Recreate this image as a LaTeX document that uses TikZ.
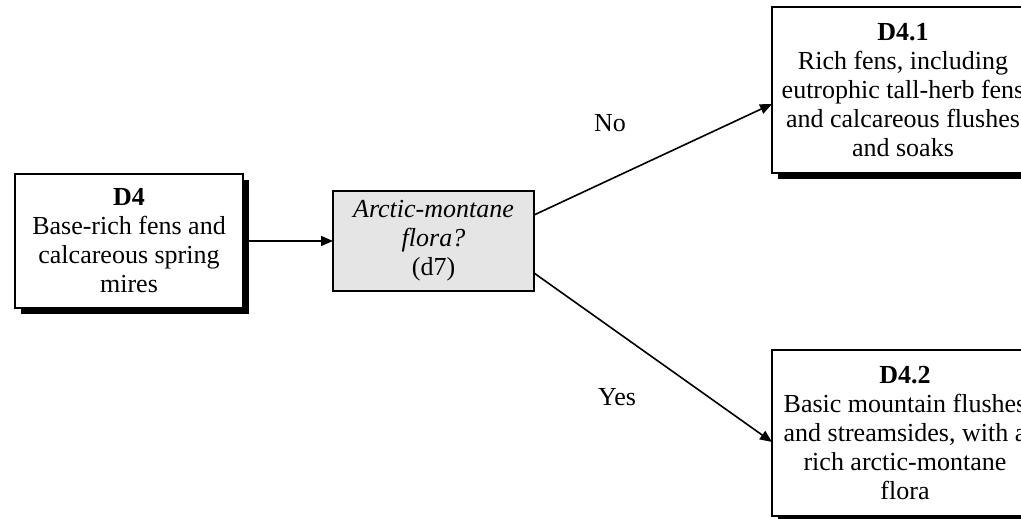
\documentclass[tikz,border=0pt]{standalone}
\usepackage{fontspec}
\setmainfont{Liberation Serif}
\usetikzlibrary{arrows.meta,shadows}
\begin{document}
\begin{tikzpicture}[x=1pt,y=-1pt,
  every node/.style={font=\fontsize{26}{29}\selectfont, align=center, inner sep=0pt, outer sep=0pt},
  shbox/.style={draw, line width=1.8pt, fill=white, drop shadow={shadow xshift=6pt, shadow yshift=-6pt, fill=black, opacity=1}},
  qbox/.style={draw, line width=1.5pt, fill=black!10},
  conn/.style={line width=1.6pt, -{Triangle[length=12pt,width=10pt]}}]
\useasboundingbox (0,0) rectangle (1021,519);
\node[shbox, minimum width=228pt, minimum height=134pt] (d4) at (129,241)
  {\textbf{D4}\\Base-rich fens and\\calcareous spring\\mires};
\node[qbox, minimum width=201pt, minimum height=100pt] (q) at (433.5,241)
  {\textit{Arctic-montane}\\\textit{flora?}\\(d7)};
\node[shbox, minimum width=262pt, minimum height=166pt] (d41) at (903,90)
  {\textbf{D4.1}\\Rich fens, including\\eutrophic tall-herb fens\\and calcareous flushes\\and soaks};
\node[shbox, minimum width=266pt, minimum height=166pt] (d42) at (905,433)
  {\textbf{D4.2}\\Basic mountain flushes\\and streamsides, with a\\rich arctic-montane\\flora};
\node (no) at (610,123) {No};
\node (yes) at (617,397) {Yes};
\draw[conn] (d4.east) -- (q.west);
\draw[conn] ([yshift=26pt]q.east) -- ([yshift=-14pt]d41.west);
\draw[conn] ([yshift=-32pt]q.east) -- ([yshift=-9pt]d42.west);
\end{tikzpicture}
\end{document}
